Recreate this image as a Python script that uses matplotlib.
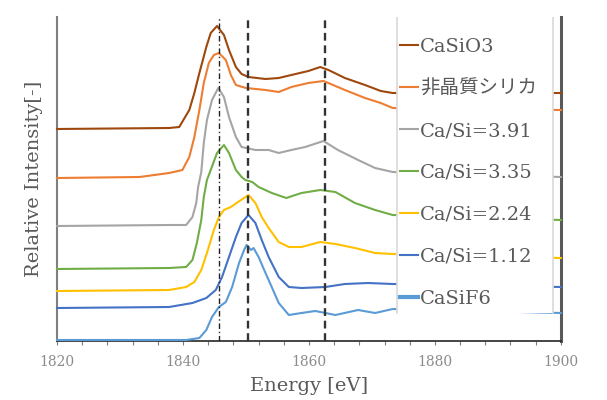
import numpy as np
import matplotlib.pyplot as plt
from matplotlib.patches import Rectangle
from matplotlib.ticker import MultipleLocator

# spectra (stacked, arbitrary units)
e_casio3 = [1820, 1837.8, 1839.4, 1841.0, 1841.8, 1842.6, 1843.7, 1844.4, 1845.4, 1846.5, 1847.3, 1848.4, 1849.3,
            1850.4, 1853.1, 1855.2, 1857.2, 1859.9, 1861.8, 1863.1, 1865.7, 1868.9, 1871.4, 1873.3, 1900]
i_casio3 = [2.12, 2.13, 2.14, 2.31, 2.48, 2.68, 2.94, 3.08, 3.15, 3.06, 2.91, 2.74, 2.67,
            2.64, 2.62, 2.63, 2.66, 2.70, 2.74, 2.71, 2.63, 2.56, 2.50, 2.48, 2.48]

e_silica = [1820, 1833.1, 1837.8, 1839.9, 1841.0, 1841.8, 1842.6, 1843.3, 1844.1, 1844.9, 1845.7, 1846.8, 1847.6,
            1848.4, 1850.0, 1853.1, 1855.2, 1857.2, 1859.9, 1862.3, 1862.7, 1865.7, 1868.9, 1871.4, 1873.3, 1900]
i_silica = [1.63, 1.64, 1.68, 1.71, 1.84, 2.04, 2.31, 2.58, 2.78, 2.86, 2.88, 2.81, 2.66,
            2.56, 2.53, 2.51, 2.49, 2.54, 2.58, 2.60, 2.59, 2.51, 2.43, 2.38, 2.33, 2.31]

e_391 = [1820, 1837.8, 1840.5, 1841.5, 1842.1, 1842.4, 1842.9, 1843.3, 1843.8, 1844.6, 1845.6, 1846.5, 1847.3,
         1848.4, 1849.3, 1851.5, 1853.6, 1855.2, 1857.2, 1859.4, 1862.3, 1864.6, 1867.8, 1870.5, 1873.3, 1900]
i_391 = [1.15, 1.16, 1.16, 1.24, 1.38, 1.54, 1.69, 1.98, 2.21, 2.41, 2.53, 2.44, 2.24,
         2.04, 1.94, 1.91, 1.91, 1.88, 1.91, 1.94, 2.00, 1.91, 1.81, 1.73, 1.69, 1.64]

e_335 = [1820, 1837.8, 1840.5, 1841.5, 1842.2, 1842.9, 1843.3, 1843.8, 1844.4, 1845.4, 1846.5, 1847.3, 1848.4,
         1849.3, 1849.9, 1851.0, 1852.0, 1854.1, 1856.4, 1858.8, 1861.8, 1864.2, 1867.3, 1870.5, 1873.3, 1900]
i_335 = [0.72, 0.73, 0.74, 0.81, 0.98, 1.21, 1.44, 1.61, 1.71, 1.88, 1.96, 1.88, 1.71,
         1.64, 1.61, 1.59, 1.54, 1.48, 1.43, 1.48, 1.51, 1.49, 1.38, 1.31, 1.26, 1.21]

e_224 = [1820, 1837.8, 1840.5, 1841.8, 1842.9, 1843.8, 1844.9, 1845.7, 1846.5, 1847.6, 1848.5, 1849.7, 1850.4,
         1851.5, 1852.5, 1853.6, 1855.2, 1856.8, 1858.8, 1861.8, 1864.2, 1867.3, 1870.5, 1873.3, 1900]
i_224 = [0.50, 0.51, 0.54, 0.59, 0.71, 0.88, 1.11, 1.24, 1.31, 1.34, 1.38, 1.43, 1.46,
         1.38, 1.24, 1.13, 0.99, 0.94, 0.94, 0.99, 0.97, 0.93, 0.88, 0.87, 0.83]

e_112 = [1820, 1837.8, 1841.5, 1843.7, 1845.2, 1846.2, 1847.3, 1848.4, 1849.3, 1850.4, 1851.5, 1852.5, 1853.6,
         1855.2, 1856.8, 1858.8, 1862.6, 1865.7, 1869.4, 1873.3, 1900]
i_112 = [0.33, 0.34, 0.38, 0.43, 0.51, 0.64, 0.84, 1.04, 1.18, 1.26, 1.18, 1.01, 0.84,
         0.64, 0.54, 0.53, 0.54, 0.57, 0.58, 0.57, 0.54]

e_casif6 = [1820, 1840.5, 1842.6, 1843.7, 1844.6, 1845.7, 1846.8, 1847.8, 1848.9, 1849.7, 1850.1, 1850.8, 1851.2,
            1852.0, 1853.1, 1853.6, 1855.2, 1856.8, 1858.8, 1861.0, 1864.2, 1867.8, 1870.5, 1873.3, 1900]
i_casif6 = [0.01, 0.01, 0.03, 0.11, 0.24, 0.34, 0.39, 0.54, 0.78, 0.91, 0.96, 0.91, 0.93,
            0.84, 0.68, 0.61, 0.38, 0.26, 0.28, 0.30, 0.26, 0.31, 0.28, 0.32, 0.28]

labels = ['CaSiO3', '非晶質シリカ', 'Ca/Si=3.91', 'Ca/Si=3.35', 'Ca/Si=2.24', 'Ca/Si=1.12', 'CaSiF6']
colors = ['#9E480E', '#ED7D31', '#A5A5A5', '#70AD47', '#FFC000', '#4472C4', '#5B9BD5']
energies = [e_casio3, e_silica, e_391, e_335, e_224, e_112, e_casif6]
intensities = [i_casio3, i_silica, i_391, i_335, i_224, i_112, i_casif6]

peak_lines = [1845.7, 1850.3, 1862.6]

serif = ['DejaVu Serif', 'Noto Sans CJK JP']
plt.rcParams['font.family'] = serif

fig = plt.figure(figsize=(6.07, 4.0), dpi=100)
ax = fig.add_axes([0.094, 0.1475, 0.830, 0.81])

for e, y, c, lab in zip(energies, intensities, colors, labels):
    ax.plot(e, y, color=c, lw=1.5, label=lab, zorder=3, clip_on=False)

# reference lines
ax.axvline(peak_lines[0], color='#222222', lw=1.0, dashes=(4, 2, 1, 2), zorder=3.5)
for x in peak_lines[1:]:
    ax.axvline(x, color='#333333', lw=1.7, dashes=(3.3, 2.0), zorder=3.5)

ax.set_xlim(1820, 1900)
ax.set_ylim(0, 3.24)
ax.xaxis.set_major_locator(MultipleLocator(20))
ax.xaxis.set_minor_locator(MultipleLocator(4))
ax.tick_params(axis='x', which='both', direction='out', length=3, width=0.8, color='#7f7f7f',
               labelsize=10, labelcolor='#8c8c8c', pad=7)
ax.set_yticks([])

ax.spines['top'].set_visible(False)
ax.spines['left'].set_color('#7f7f7f')
ax.spines['left'].set_linewidth(1.5)
ax.spines['right'].set_color('#595959')
ax.spines['right'].set_linewidth(2.2)
ax.spines['bottom'].set_color('#262626')
ax.spines['bottom'].set_linewidth(1.2)

ax.set_xlabel('Energy [eV]', fontsize=14, color='#595959', labelpad=6)
ax.set_ylabel('Relative Intensity[-]', fontsize=14, color='#595959', labelpad=10)

# legend box covering the right part of the plot
x0, x1, yb = 0.675, 0.984, 0.086
ax.add_patch(Rectangle((x0, yb), x1 - x0, 1 - yb, transform=ax.transAxes,
                       facecolor='white', edgecolor='none', zorder=4))
for xb in (x0, x1):
    ax.plot([xb, xb], [yb, 1], transform=ax.transAxes, color='#d9d9d9', lw=1.2, zorder=4.5)

leg = ax.legend(loc='upper left', bbox_to_anchor=(0.68, 0.935), frameon=False,
                prop={'family': serif, 'size': 14},
                handlelength=0.95, handletextpad=0.1, labelspacing=1.23, borderpad=0, borderaxespad=0)
leg.set_zorder(5)
for t in leg.get_texts():
    t.set_color('#595959')
leg.get_lines()[-1].set_linewidth(3)

fig.savefig('out.png', dpi=100)
